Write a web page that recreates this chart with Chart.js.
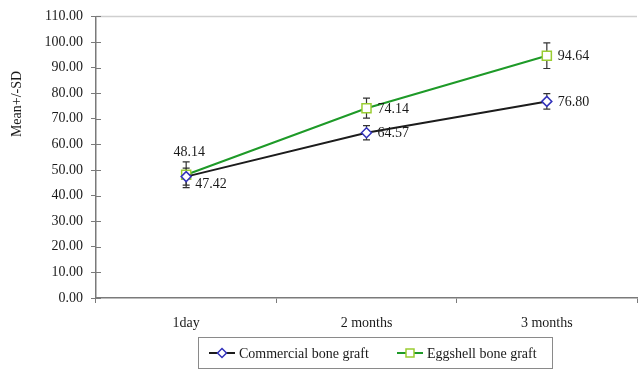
<!DOCTYPE html>
<html>
<head>
<meta charset="utf-8">
<script src="https://cdn.jsdelivr.net/npm/chart.js@4.4.1/dist/chart.umd.min.js"></script>
<style>
  html, body { margin: 0; padding: 0; background: #fff; }
  #wrap { width: 638px; height: 370px; }
</style>
</head>
<body>
<div id="wrap"><canvas id="chart" width="638" height="370"></canvas></div>
<script>
// values
const categories = ['1day', '2 months', '3 months'];
const commercialMeans = [47.42, 64.57, 76.80];
const commercialSD = [3.3, 2.8, 3.0];
const eggshellMeans = [48.14, 74.14, 94.64];
const eggshellSD = [5.0, 3.9, 5.0];
const yTickValues = [0, 10, 20, 30, 40, 50, 60, 70, 80, 90, 100, 110];
const seriesNames = ['Commercial bone graft', 'Eggshell bone graft'];

const FONT = 'Liberation Serif';
const TEXT = '#1a1a1a';
const AXIS = '#7a7a7a';
const BLACK_LINE = '#1c1c1c';
const GREEN_LINE = '#1e9a28';
const DIAMOND = '#3333bb';
const SQUARE = '#9acd32';

// label placement per series / point: default is right of the point
const labelPlace = [
    [{ dx: 9, dy: 8, align: 'left' }, null, null],
    [{ dx: 3, dy: -22, align: 'center' }, null, null]
];
const sdLists = [commercialSD, eggshellSD];

function drawDiamond(ctx, x, y, r, stroke) {
    ctx.beginPath();
    ctx.moveTo(x, y - r);
    ctx.lineTo(x + r, y);
    ctx.lineTo(x, y + r);
    ctx.lineTo(x - r, y);
    ctx.closePath();
    ctx.fillStyle = '#fff';
    ctx.fill();
    ctx.lineWidth = 1.5;
    ctx.strokeStyle = stroke;
    ctx.stroke();
}

function drawSquare(ctx, x, y, h, stroke) {
    ctx.fillStyle = '#fff';
    ctx.fillRect(x - h, y - h, 2 * h, 2 * h);
    ctx.lineWidth = 1.5;
    ctx.strokeStyle = stroke;
    ctx.strokeRect(x - h, y - h, 2 * h, 2 * h);
}

const extras = {
    id: 'extras',
    beforeDatasetsDraw(chart) {
        // error bars (mean +/- SD)
        const ctx = chart.ctx;
        const y = chart.scales.y;
        ctx.save();
        ctx.strokeStyle = '#333';
        ctx.lineWidth = 1.2;
        chart.data.datasets.forEach((ds, di) => {
            const meta = chart.getDatasetMeta(di);
            meta.data.forEach((pt, i) => {
                const top = y.getPixelForValue(ds.data[i] + sdLists[di][i]);
                const bot = y.getPixelForValue(ds.data[i] - sdLists[di][i]);
                ctx.beginPath();
                ctx.moveTo(pt.x, top); ctx.lineTo(pt.x, bot);
                ctx.moveTo(pt.x - 3.5, top); ctx.lineTo(pt.x + 3.5, top);
                ctx.moveTo(pt.x - 3.5, bot); ctx.lineTo(pt.x + 3.5, bot);
                ctx.stroke();
            });
        });
        ctx.restore();
    },
    afterDraw(chart) {
        const ctx = chart.ctx;
        const area = chart.chartArea;
        const y = chart.scales.y;
        ctx.save();

        // light top border of plot area
        ctx.strokeStyle = '#cfcfcf';
        ctx.lineWidth = 1.5;
        ctx.beginPath();
        ctx.moveTo(area.left, area.top);
        ctx.lineTo(area.right, area.top);
        ctx.stroke();

        // inner half of the y tick marks (they cross the axis)
        ctx.strokeStyle = AXIS;
        ctx.lineWidth = 1;
        y.ticks.forEach(t => {
            const py = Math.round(y.getPixelForValue(t.value)) + 0.5;
            ctx.beginPath();
            ctx.moveTo(area.left, py);
            ctx.lineTo(area.left + 5, py);
            ctx.stroke();
        });

        // data labels
        ctx.font = '14px "' + FONT + '"';
        ctx.fillStyle = TEXT;
        ctx.textBaseline = 'middle';
        chart.data.datasets.forEach((ds, di) => {
            const meta = chart.getDatasetMeta(di);
            meta.data.forEach((pt, i) => {
                const p = labelPlace[di][i] || { dx: 11, dy: 1, align: 'left' };
                ctx.textAlign = p.align;
                ctx.fillText(ds.data[i].toFixed(2), pt.x + p.dx, pt.y + p.dy);
            });
        });

        // y axis title
        ctx.save();
        ctx.translate(17, 104);
        ctx.rotate(-Math.PI / 2);
        ctx.textAlign = 'center';
        ctx.fillText('Mean+/-SD', 0, 0);
        ctx.restore();

        // legend
        ctx.strokeStyle = '#8a8a8a';
        ctx.lineWidth = 1;
        ctx.strokeRect(198.5, 337.5, 354, 31);
        const ly = 353;
        const items = [
            { x: 209, color: BLACK_LINE, marker: 'diamond' },
            { x: 397, color: GREEN_LINE, marker: 'square' }
        ];
        items.forEach((it, k) => {
            ctx.strokeStyle = it.color;
            ctx.lineWidth = 2;
            ctx.beginPath();
            ctx.moveTo(it.x, ly);
            ctx.lineTo(it.x + 26, ly);
            ctx.stroke();
            if (it.marker === 'diamond') drawDiamond(ctx, it.x + 13, ly, 4.5, DIAMOND);
            else drawSquare(ctx, it.x + 13, ly, 4, SQUARE);
            ctx.fillStyle = TEXT;
            ctx.textAlign = 'left';
            ctx.fillText(seriesNames[k], it.x + 30, ly + 1);
        });

        ctx.restore();
    }
};

new Chart(document.getElementById('chart'), {
    type: 'line',
    data: {
        labels: categories,
        datasets: [{
            label: seriesNames[0],
            data: commercialMeans,
            borderColor: BLACK_LINE,
            borderWidth: 2,
            tension: 0,
            pointStyle: 'rectRot',
            pointRadius: 5,
            pointBackgroundColor: '#fff',
            pointBorderColor: DIAMOND,
            pointBorderWidth: 1.5
        }, {
            label: seriesNames[1],
            data: eggshellMeans,
            borderColor: GREEN_LINE,
            borderWidth: 2,
            tension: 0,
            pointStyle: 'rect',
            pointRadius: 6.4,
            pointBackgroundColor: '#fff',
            pointBorderColor: SQUARE,
            pointBorderWidth: 1.5
        }]
    },
    options: {
        responsive: false,
        animation: false,
        layout: { autoPadding: false, padding: { top: 14, right: 1, left: 0, bottom: 0 } },
        plugins: {
            legend: { display: false },
            tooltip: { enabled: false }
        },
        scales: {
            x: {
                offset: true,
                grid: { offset: true, drawOnChartArea: false, tickLength: 5, color: AXIS },
                border: { color: AXIS, width: 1.5 },
                ticks: { font: { family: FONT, size: 14 }, color: TEXT, padding: 12 },
                afterFit(s) { s.height = 72; }
            },
            y: {
                min: 0,
                max: 110,
                afterBuildTicks(s) { s.ticks = yTickValues.map(v => ({ value: v })); },
                grid: { drawOnChartArea: false, tickLength: 5, color: AXIS },
                border: { color: AXIS, width: 1.5 },
                ticks: {
                    font: { family: FONT, size: 14 },
                    color: TEXT,
                    padding: 8,
                    callback: v => v.toFixed(2)
                },
                afterFit(s) { s.width = 96; }
            }
        }
    },
    plugins: [extras]
});
</script>
</body>
</html>
